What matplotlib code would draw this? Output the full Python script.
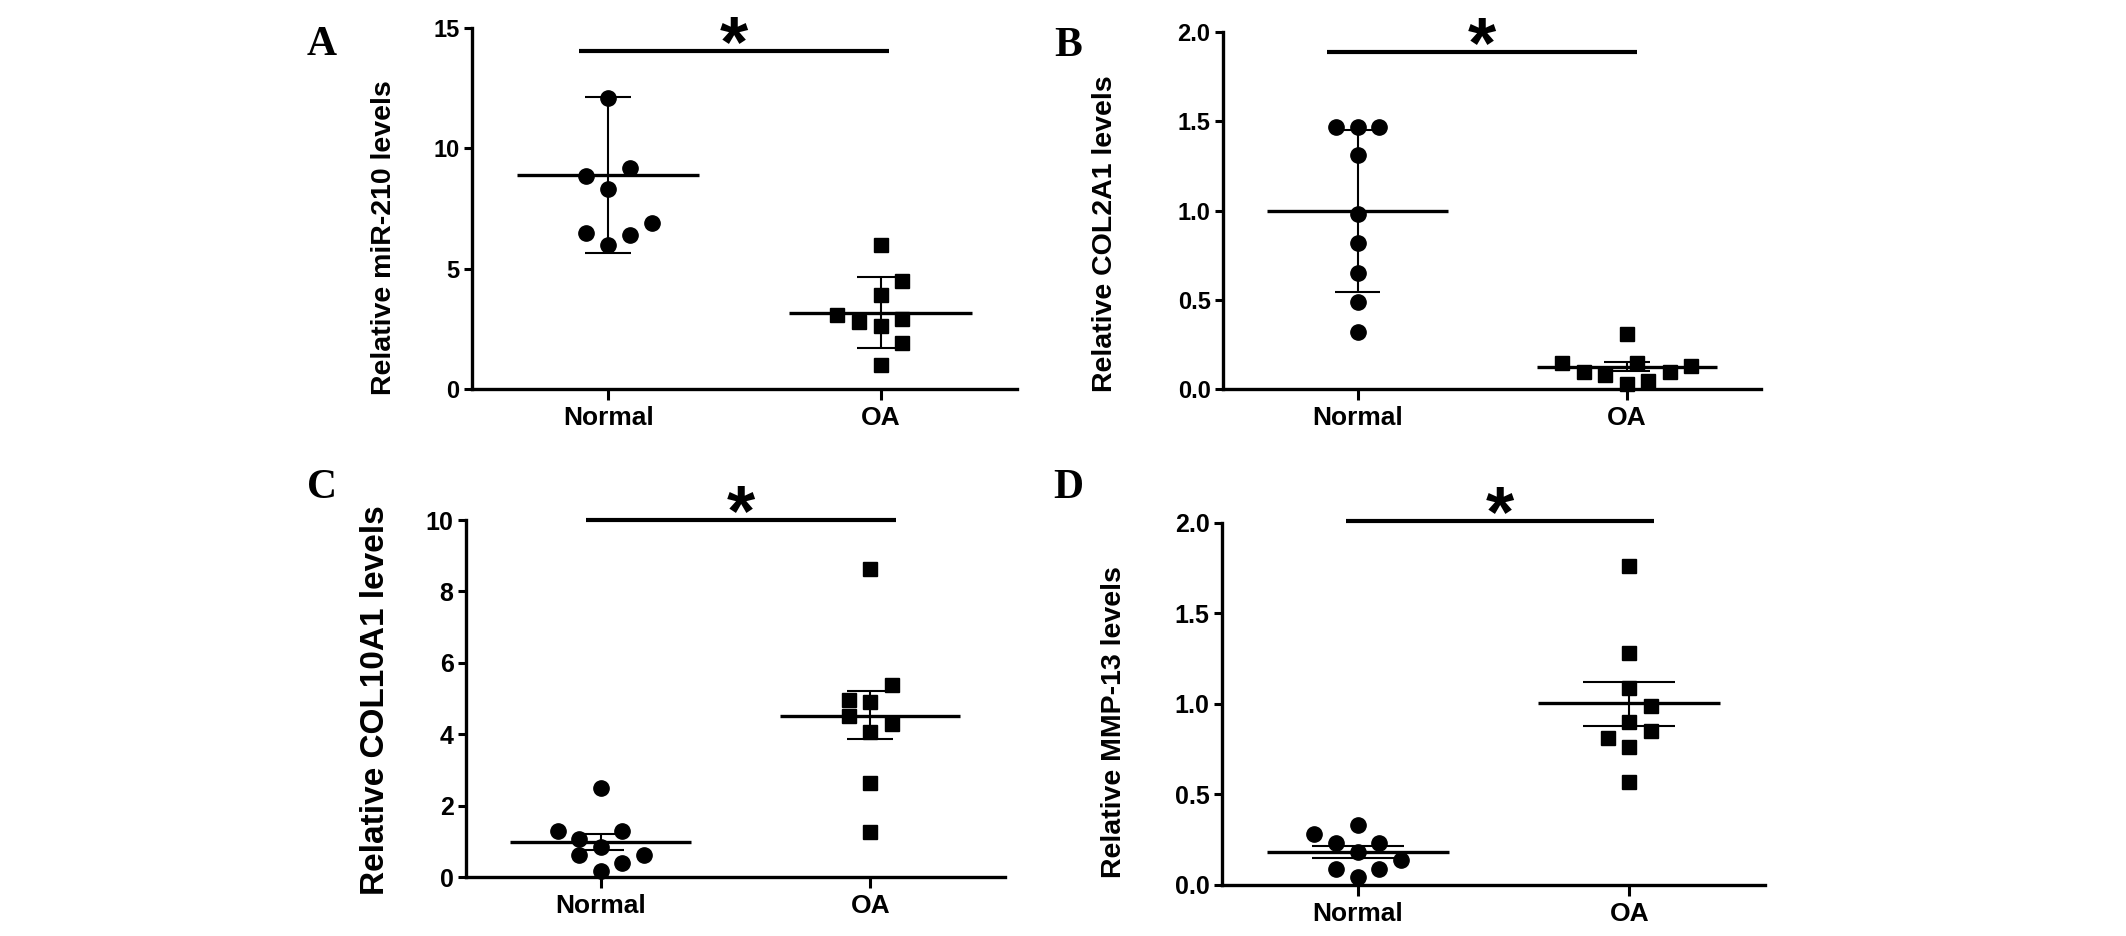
import numpy as np
import matplotlib
matplotlib.use("Agg")
import matplotlib.pyplot as plt

plt.rcParams['font.family'] = ['Liberation Sans', 'DejaVu Sans']
plt.rcParams['font.weight'] = 'bold'

GROUPS = ["Normal", "OA"]

# panel A: miR-210
a_normal = [12.1, 8.83, 9.2, 8.33, 6.9, 6.5, 6.4, 6.0]
a_oa = [6.0, 4.5, 3.9, 3.08, 2.8, 2.9, 2.6, 1.9, 1.0]
a_mean = [8.9, 3.17]
a_err_lo = [5.67, 1.71]
a_err_hi = [12.15, 4.67]

# panel B: COL2A1
b_normal = [1.47, 1.47, 1.47, 1.31, 0.98, 0.82, 0.65, 0.49, 0.32]
b_oa = [0.146, 0.095, 0.078, 0.31, 0.03, 0.146, 0.045, 0.095, 0.13]
b_mean = [1.0, 0.123]
b_err_lo = [0.545, 0.10]
b_err_hi = [1.45, 0.15]

# panel C: COL10A1
c_normal = [2.49, 1.29, 1.29, 1.06, 0.84, 0.62, 0.62, 0.39, 0.17]
c_oa = [8.63, 5.38, 4.96, 4.9, 4.5, 4.29, 4.06, 2.63, 1.26]
c_mean = [0.98, 4.51]
c_err_lo = [0.76, 3.87]
c_err_hi = [1.2, 5.21]

# panel D: MMP-13
d_normal = [0.33, 0.28, 0.23, 0.23, 0.18, 0.14, 0.09, 0.09, 0.045]
d_oa = [1.76, 1.28, 1.09, 0.99, 0.90, 0.85, 0.81, 0.76, 0.57]
d_mean = [0.18, 1.005]
d_err_lo = [0.15, 0.88]
d_err_hi = [0.215, 1.12]

# horizontal scatter slots (GraphPad style column layout)
a_slots = ([0, -1, 1, 0, 2, -1, 1, 0], [0, 1, 0, -2, -1, 1, 0, 1, 0])
b_slots = ([-1, 0, 1, 0, 0, 0, 0, 0, 0], [-3, -2, -1, 0, 0, 0.5, 1, 2, 3])
c_slots = ([0, -2, 1, -1, 0, -1, 2, 1, 0], [0, 1, -1, 0, -1, 1, 0, 0, 0])
d_slots = ([0, -2, -1, 1, 0, 2, -1, 1, 0], [0, 0, 0, 1, 0, 1, -1, 0, 0])

panels = [
    dict(letter="A", ylabel="Relative miR-210 levels", normal=a_normal, oa=a_oa, mean=a_mean,
         lo=a_err_lo, hi=a_err_hi, slots=a_slots, ylim=15, yticks=[0, 5, 10, 15], fmt="{:g}",
         sig=14.04, bar=(-0.107, 1.03), pos=[0.2220, 0.5844, 0.2563, 0.3857],
         lab=(-0.138, 0.42), lfs=20.5, tfs=17, cap=0.085),
    dict(letter="B", ylabel="Relative COL2A1 levels", normal=b_normal, oa=b_oa, mean=b_mean,
         lo=b_err_lo, hi=b_err_hi, slots=b_slots, ylim=2.0, yticks=[0, 0.5, 1.0, 1.5, 2.0], fmt="{:.1f}",
         sig=1.89, bar=(-0.115, 1.04), pos=[0.5753, 0.5844, 0.2531, 0.3814],
         lab=(-0.195, 0.434), lfs=20.5, tfs=17, cap=0.085),
    dict(letter="C", ylabel="Relative COL10A1 levels", normal=c_normal, oa=c_oa, mean=c_mean,
         lo=c_err_lo, hi=c_err_hi, slots=c_slots, ylim=10, yticks=[0, 2, 4, 6, 8, 10], fmt="{:g}",
         sig=10.0, bar=(-0.056, 1.097), pos=[0.2192, 0.0630, 0.2535, 0.3814],
         lab=(-0.139, 0.496), lfs=24, tfs=18, cap=0.085),
    dict(letter="D", ylabel="Relative MMP-13 levels", normal=d_normal, oa=d_oa, mean=d_mean,
         lo=d_err_lo, hi=d_err_hi, slots=d_slots, ylim=2.0, yticks=[0, 0.5, 1.0, 1.5, 2.0], fmt="{:.1f}",
         sig=2.01, bar=(-0.044, 1.09), pos=[0.5748, 0.0545, 0.2554, 0.3868],
         lab=(-0.175, 0.45), lfs=20.5, tfs=18, cap=0.17),
]
letter_xy = {"A": (0.1515, 0.952), "B": (0.5024, 0.951), "C": (0.1515, 0.4786), "D": (0.5024, 0.4786)}

fig = plt.figure(figsize=(21.26, 9.36), dpi=100)

for p in panels:
    ax = fig.add_axes(p["pos"])
    for gi, (vals, marker, ms) in enumerate([(p["normal"], "o", 11), (p["oa"], "s", 10)]):
        xs = gi + 0.08 * np.array(p["slots"][gi])
        ax.plot(xs, vals, linestyle="none", marker=marker, ms=ms, color="black",
                zorder=3, clip_on=False)
        # mean line + error bar
        ax.hlines(p["mean"][gi], gi - 0.335, gi + 0.335, color="black", lw=2.4, zorder=2)
        ax.vlines(gi, p["lo"][gi], p["hi"][gi], color="black", lw=1.5, zorder=2)
        ax.hlines([p["lo"][gi], p["hi"][gi]], gi - p["cap"], gi + p["cap"],
                  color="black", lw=1.5, zorder=2)

    # significance bar
    ax.hlines(p["sig"], p["bar"][0], p["bar"][1], color="black", lw=3, clip_on=False)
    ax.annotate("*", xy=(np.mean(p["bar"]), p["sig"]), xytext=(0, -11),
                textcoords="offset points", ha="center", va="baseline",
                fontsize=52, fontweight="bold", annotation_clip=False)

    ax.set_xlim(-0.5, 1.5)
    ax.set_ylim(0, p["ylim"])
    ax.set_xticks([0, 1])
    ax.set_xticklabels(GROUPS, fontsize=19, fontweight="bold")
    ax.set_yticks(p["yticks"])
    ax.set_yticklabels([p["fmt"].format(t) for t in p["yticks"]], fontsize=p["tfs"], fontweight="bold")
    ax.tick_params(axis="y", direction="out", length=6, width=2.2, pad=3)
    ax.tick_params(axis="x", direction="out", length=8, width=2.2, pad=4)
    for s in ["top", "right"]:
        ax.spines[s].set_visible(False)
    for s in ["left", "bottom"]:
        ax.spines[s].set_linewidth(2.4)
    ax.set_ylabel(p["ylabel"], fontsize=p["lfs"], fontweight="bold")
    ax.yaxis.set_label_coords(*p["lab"])

    lx, ly = letter_xy[p["letter"]]
    fig.text(lx, ly, p["letter"], family="Liberation Serif", fontsize=30,
             fontweight="bold", ha="center", va="center")

fig.savefig("out.png", dpi=100)
